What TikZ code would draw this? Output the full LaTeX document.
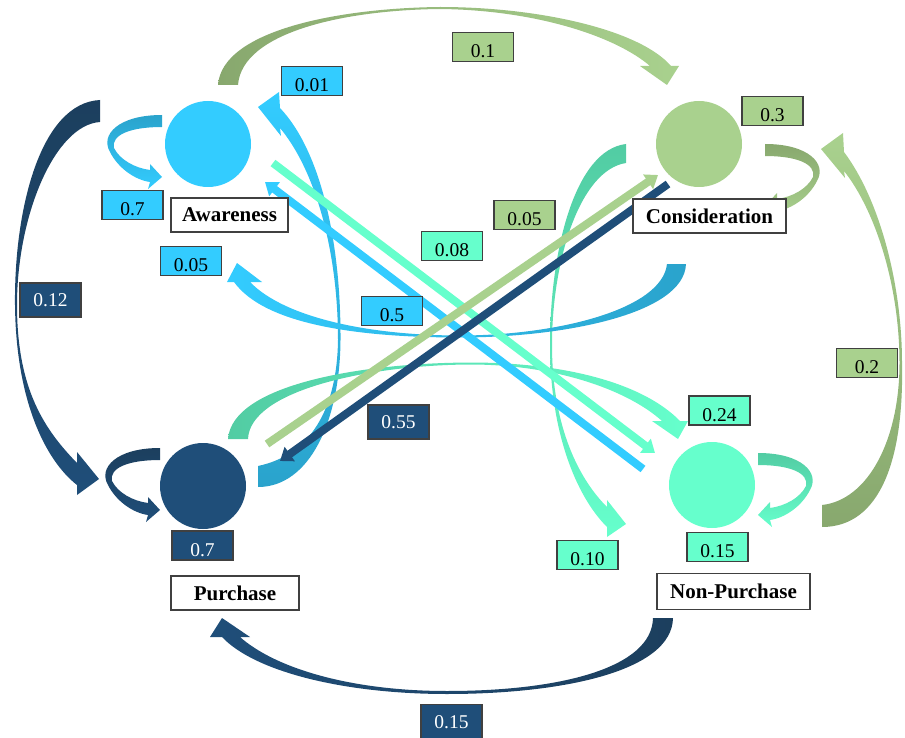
\documentclass[tikz,border=0pt]{standalone}
\usepackage{fontspec}
\setmainfont{Liberation Serif}
\usetikzlibrary{arrows.meta}

\definecolor{skyblue}{HTML}{33CCFF}
\definecolor{skydark}{HTML}{2AA3CC}
\definecolor{leaf}{HTML}{A9D18E}
\definecolor{leafdark}{HTML}{88A86E}
\definecolor{navy}{HTML}{1F4E79}
\definecolor{navydark}{HTML}{1C3F5E}
\definecolor{mint}{HTML}{66FFCC}
\definecolor{mintdark}{HTML}{52CCA3}
\definecolor{frame}{HTML}{404040}

% self-loop ribbon, local origin = upper corner of its tail
\newcommand{\loopribbon}[2]{%
  \shade[top color=#1, bottom color=#2]
    (0,0) .. controls (-44,0) and (-62,20) .. (-52,37)
          .. controls (-44,53) and (-27,65) .. (-12,67)
       -- (-14,74) -- (0,62) -- (-12,49) -- (-12,55)
          .. controls (-27,53) and (-42,45) .. (-48,33)
          .. controls (-51,20) and (-32,12) .. (0,12) -- cycle;}

\begin{document}
\begin{tikzpicture}[x=1pt,y=-1pt,
  state/.style={circle, minimum size=86pt, inner sep=0pt},
  namebox/.style={draw=frame, line width=1.2pt, fill=white, inner sep=0pt,
    minimum height=34pt, font=\fontsize{21}{24}\selectfont\bfseries},
  numbox/.style={draw=frame, line width=1.2pt, inner sep=0pt,
    minimum width=61pt, minimum height=29pt, text height=21.5pt, text depth=0pt,
    font=\fontsize{19.5}{22}\selectfont},
  numboxtall/.style={numbox, minimum height=34pt, text height=13.5pt},
  beam/.style={line width=8pt, -{Triangle[length=12pt,width=17pt]}},
]
\useasboundingbox (0,0) rectangle (905,738);

% ---------- curved transition ribbons ----------
% Awareness -> Consideration (0.1)
\shade[left color=leafdark, right color=leaf]
  (218,85) .. controls (222,30) and (340,8) .. (440,7)
           .. controls (540,7) and (640,30) .. (671,66)
  -- (679,66) -- (667,85) -- (640,66) -- (650,66)
           .. controls (615,36) and (535,10) .. (440,9)
           .. controls (345,10) and (242,32) .. (238,85) -- cycle;

% Awareness -> Purchase (0.12)
\shade[top color=navydark, bottom color=navy]
  (100,100) .. controls (40,103) and (14,210) .. (15,305)
            .. controls (16,400) and (45,460) .. (77,485)
  -- (77,495) -- (99,479) -- (77,452) -- (77,463)
            .. controls (45,430) and (17,390) .. (17,305)
            .. controls (17,215) and (55,125) .. (100,122) -- cycle;

% Non-Purchase -> Purchase (0.15)
\shade[left color=navy, right color=navydark]
  (673,618) .. controls (672,672) and (560,694) .. (447,694)
            .. controls (345,694) and (255,672) .. (222,637)
  -- (210,637) -- (222,618) -- (250,637) -- (240,637)
            .. controls (275,668) and (350,691) .. (447,691)
            .. controls (560,691) and (652,668) .. (653,618) -- cycle;

% Non-Purchase -> Consideration (0.2)
\shade[top color=leaf, bottom color=leafdark]
  (822,505) .. controls (868,500) and (899.5,440) .. (899.5,363)
            .. controls (899.5,285) and (875,210) .. (844,171)
  -- (845,178) -- (821,149) -- (843,133) -- (844,152)
            .. controls (880,200) and (902,285) .. (902,363)
            .. controls (904,460) and (880,527) .. (822,527) -- cycle;

% Purchase -> Awareness (0.01)
\shade[top color=skyblue, bottom color=skydark]
  (258,466) .. controls (310,455) and (337,410) .. (338,340)
            .. controls (338,250) and (315,170) .. (280,128)
  -- (281,136) -- (258,107) -- (279,92) -- (280,108)
            .. controls (320,150) and (341,240) .. (340.5,340)
            .. controls (340,420) and (310,487) .. (258,487) -- cycle;

% Purchase -> Non-Purchase (0.24)
\shade[left color=mintdark, right color=mint]
  (228,439) .. controls (232,385) and (360,363) .. (470,362.5)
            .. controls (570,362.5) and (645,385) .. (680,421)
  -- (688,421) -- (678,439) -- (652,421) -- (662,421)
            .. controls (630,392) and (560,364.5) .. (470,364.5)
            .. controls (370,365) and (250,390) .. (248,439) -- cycle;

% Consideration -> Non-Purchase (0.10)
\shade[top color=mintdark, bottom color=mint]
  (626,144) .. controls (575,150) and (550,250) .. (550,345)
            .. controls (550,430) and (575,495) .. (607,527)
  -- (607,537) -- (626,524) -- (607,500) -- (607,507)
            .. controls (575,475) and (552,420) .. (552,345)
            .. controls (552,260) and (580,170) .. (626,163) -- cycle;

% Consideration -> Awareness (0.05)
\shade[left color=skyblue, right color=skydark]
  (686,264) .. controls (684,315) and (560,337.5) .. (460,337.5)
            .. controls (360,337.5) and (265,325) .. (234,282)
  -- (227,282) -- (237,263) -- (262,282) -- (250,282)
            .. controls (285,318) and (370,335.5) .. (460,335.5)
            .. controls (555,335.5) and (662,310) .. (667,264) -- cycle;

% ---------- self-loops ----------
\begin{scope}[shift={(162,115)}]\loopribbon{skydark}{skyblue}\end{scope}
\begin{scope}[shift={(160,448)}]\loopribbon{navydark}{navy}\end{scope}
\begin{scope}[shift={(765,144)}, xscale=-1]\loopribbon{leafdark}{leaf}\end{scope}
\begin{scope}[shift={(758,453)}, xscale=-1]\loopribbon{mintdark}{mint}\end{scope}

% ---------- straight transitions ----------
\coordinate (b1s) at (643,469);  \coordinate (b1e) at (265,182);
\coordinate (m1s) at (273,163);  \coordinate (m1e) at (655,453);
\coordinate (g1s) at (267,444);  \coordinate (g1e) at (658,175);
\coordinate (n1s) at (668,184);  \coordinate (n1e) at (280,461);
\draw[beam, draw=skyblue, fill=skyblue] (b1s) -- (b1e);
\draw[beam, draw=mint, fill=mint] (m1s) -- (m1e);
\draw[beam, draw=leaf, fill=leaf] (g1s) -- (g1e);
\draw[beam, draw=navy, fill=navy] (n1s) -- (n1e);

% ---------- states ----------
\node[state, fill=skyblue] (aw) at (208,144) {};
\node[state, fill=leaf]    (co) at (699,144) {};
\node[state, fill=navy]    (pu) at (203,486) {};
\node[state, fill=mint]    (np) at (712,485) {};

\node[namebox, minimum width=117pt] (awl) at (229.5,215) {Awareness};
\node[namebox, minimum width=153pt] (col) at (709.5,216) {Consideration};
\node[namebox, minimum width=128pt] (pul) at (235,593) {Purchase};
\node[namebox, minimum width=153pt, minimum height=36pt] (npl) at (733.5,591.5) {Non-Purchase};

% ---------- probabilities ----------
\node[numbox, fill=skyblue] (p1) at (312,81) {0.01};
\node[numbox, fill=leaf] (p2) at (483,47) {0.1};
\node[numbox, fill=leaf] (p3) at (772.5,111) {0.3};
\node[numbox, fill=skyblue] (p4) at (132.5,205) {0.7};
\node[numbox, fill=skyblue] (p5) at (191,261) {0.05};
\node[numboxtall, fill=navy, text=white] (p6) at (50.5,300) {0.12};
\node[numbox, fill=skyblue] (p7) at (392,311) {0.5};
\node[numbox, fill=mint] (p8) at (452,246) {0.08};
\node[numbox, fill=leaf] (p9) at (524.5,215) {0.05};
\node[numboxtall, fill=navy, text=white] (p10) at (398.5,422) {0.55};
\node[numbox, fill=leaf] (p11) at (867,363) {0.2};
\node[numbox, fill=mint] (p12) at (719.5,410.5) {0.24};
\node[numbox, fill=mint] (p13) at (717.5,547) {0.15};
\node[numbox, fill=mint] (p14) at (587.5,555) {0.10};
\node[numbox, fill=navy, text=white] (p15) at (202.5,545.5) {0.7};
\node[numboxtall, fill=navy, text=white] (p16) at (451.5,721.5) {0.15};
\end{tikzpicture}
\end{document}
